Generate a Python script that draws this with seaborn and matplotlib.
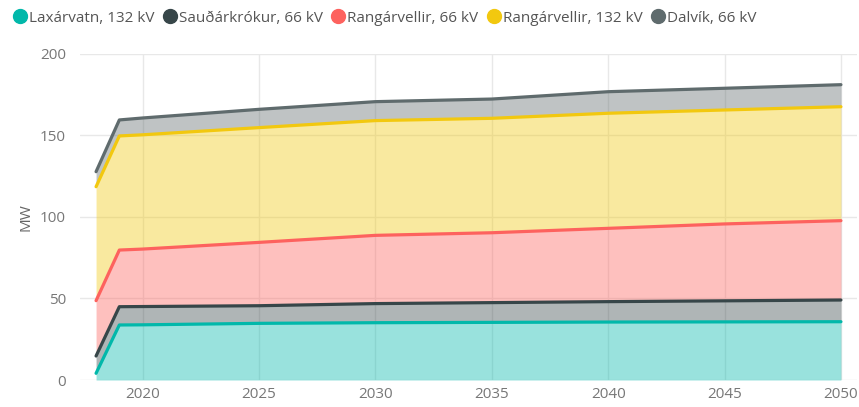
import numpy as np
import pandas as pd
import matplotlib
matplotlib.use("Agg")
import matplotlib.pyplot as plt
from matplotlib.lines import Line2D
import seaborn as sns

years = [2018, 2019, 2020, 2025, 2030, 2035, 2040, 2045, 2050]
series_names = ["Laxárvatn, 132 kV", "Sauðárkrókur, 66 kV", "Rangárvellir, 66 kV",
                "Rangárvellir, 132 kV", "Dalvík, 66 kV"]
laxarvatn_132 = [4.1, 33.7, 33.8, 34.7, 35.1, 35.3, 35.5, 35.6, 35.7]
saudarkrokur_66 = [10.6, 11.2, 11.2, 10.8, 11.7, 12.1, 12.5, 12.9, 13.3]
rangarvellir_66 = [33.9, 34.7, 35.2, 38.8, 41.8, 42.8, 44.9, 47.1, 48.6]
rangarvellir_132 = [69.8, 69.9, 70.0, 70.3, 70.3, 70.1, 70.5, 69.8, 69.8]
dalvik_66 = [9.2, 9.8, 10.3, 11.2, 11.6, 11.8, 13.2, 13.3, 13.5]
y_ticks = [0, 50, 100, 150, 200]
x_ticks = [2020, 2025, 2030, 2035, 2040, 2045, 2050]

colors = ["#01B8AA", "#374649", "#FD625E", "#F2C80F", "#5F6B6D"]

sns.set_theme(style="whitegrid")
plt.rcParams['font.family'] = ['Open Sans', 'DejaVu Sans']

values = np.array([laxarvatn_132, saudarkrokur_66, rangarvellir_66, rangarvellir_132, dalvik_66])
cum = np.cumsum(values, axis=0)

rows = []
for i, name in enumerate(series_names):
    for j, yr in enumerate(years):
        rows.append({"Year": yr, "Series": name, "Top": cum[i, j]})
df = pd.DataFrame(rows)

fig = plt.figure(figsize=(8.59, 4.07), dpi=100)
ax = fig.add_axes([80/859, (407-380)/407, (857-80)/859, (380-53.5)/407])

yrs = np.array(years)
for i in range(len(series_names)):
    lower = cum[i-1] if i > 0 else np.zeros(len(years))
    ax.fill_between(yrs, lower, cum[i], color=colors[i], alpha=0.4, linewidth=0, zorder=2)

sns.lineplot(data=df, x="Year", y="Top", hue="Series", palette=colors,
             hue_order=series_names, linewidth=2.3, ax=ax, legend=False, zorder=3)

ax.set_xlim(2017.31, 2050.69)
ax.set_ylim(0, 200)
ax.set_xticks(x_ticks)
ax.set_yticks(y_ticks)
ax.grid(True, color="#E8E8E8", linewidth=1)
for s in ax.spines.values():
    s.set_visible(False)
ax.tick_params(axis='both', length=0, labelsize=11, colors="#777777")
ax.tick_params(axis='y', pad=10)
ax.tick_params(axis='x', pad=5)
ax.set_xlabel("")
ax.set_ylabel("MW", fontsize=11, color="#666666", labelpad=5)

handles = [Line2D([0], [0], marker='o', linestyle='', markersize=10,
                  markerfacecolor=c, markeredgecolor=c) for c in colors]
fig.legend(handles, series_names, loc='upper left', bbox_to_anchor=(0.0, 1.0),
           ncol=5, frameon=False, handletextpad=0.0, columnspacing=0.4,
           handlelength=1.2, borderaxespad=0.3, fontsize=11, labelcolor="#555555")

fig.savefig("out.png", dpi=100)
